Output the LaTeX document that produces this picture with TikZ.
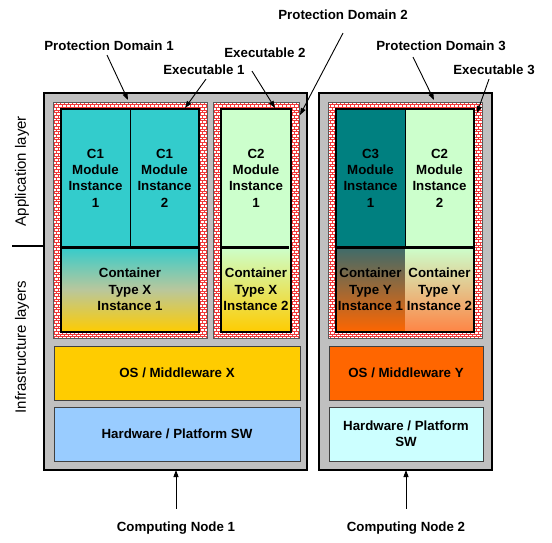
\documentclass[tikz,border=0pt]{standalone}
\usepackage{fontspec}
\setmainfont{Liberation Sans}
\usetikzlibrary{arrows.meta,patterns}

\definecolor{framegray}{HTML}{C0C0C0}
\definecolor{tealc}{HTML}{33CCCC}
\definecolor{darkteal}{HTML}{008080}
\definecolor{greyteal}{HTML}{3D6B6B}
\definecolor{palegreen}{HTML}{CCFFCC}
\definecolor{goldc}{HTML}{FFCC00}
\definecolor{tanmid}{HTML}{B9C79C}
\definecolor{orangec}{HTML}{FF6600}
\definecolor{lightorange}{HTML}{FF8444}
\definecolor{skyblue}{HTML}{99CCFF}
\definecolor{palecyan}{HTML}{CCFFFF}
\definecolor{brickred}{HTML}{F03A3A}

% small brick wall for the protection domains
\pgfdeclarepatternformonly{brickwall}{\pgfpoint{-0.5pt}{-0.5pt}}{\pgfpoint{4.5pt}{6pt}}{\pgfpoint{4pt}{5.4pt}}{
  \pgfsetlinewidth{0.75pt}
  \pgfpathmoveto{\pgfpoint{0pt}{0pt}}\pgfpathlineto{\pgfpoint{4pt}{0pt}}
  \pgfpathmoveto{\pgfpoint{0pt}{2.7pt}}\pgfpathlineto{\pgfpoint{4pt}{2.7pt}}
  \pgfpathmoveto{\pgfpoint{0pt}{0pt}}\pgfpathlineto{\pgfpoint{0pt}{2.7pt}}
  \pgfpathmoveto{\pgfpoint{2pt}{2.7pt}}\pgfpathlineto{\pgfpoint{2pt}{5.4pt}}
  \pgfusepath{stroke}
}

\newcommand{\boxfont}{\bfseries\fontsize{13.3}{16.3}\selectfont}

\tikzset{
  nodeframe/.style={fill=framegray, draw=black, line width=2.6pt},
  pdframe/.style={preaction={fill=white}, pattern=brickwall, pattern color=brickred,
    draw=black!65, line width=0.7pt},
  exframe/.style={draw=black, line width=1.3pt},
  modbox/.style={draw=black, line width=0.8pt, inner sep=0pt, align=center,
    font=\boxfont, minimum width=69pt, minimum height=138pt},
  contbox/.style={modbox, draw=none, minimum height=85pt},
  layerbox/.style={draw=black!75, line width=0.8pt, inner sep=0pt, align=center,
    font=\boxfont, minimum width=246pt, minimum height=54pt},
  lbl/.style={font=\boxfont, inner sep=1pt},
  sidelbl/.style={font=\fontsize{15}{18}\selectfont, inner sep=1pt, rotate=90},
  ptr/.style={-{Triangle[length=7pt,width=5pt]}, line width=0.9pt}
}

\begin{document}
\begin{tikzpicture}[x=1pt,y=-1pt]
\useasboundingbox (0,0) rectangle (552,542);

% computing nodes
\draw[nodeframe] (44,93) rectangle (307,470);
\draw[nodeframe] (319,93) rectangle (492,470);

% protection domains
\draw[pdframe] (53,102) rectangle (207,338);
\draw[pdframe] (213,102) rectangle (299,338);
\draw[pdframe] (328,102) rectangle (482,338);

% executable 1
\node[modbox, fill=tealc] (c1m1) at (95.5,178) {C1\\Module\\Instance\\1};
\node[modbox, fill=tealc] (c1m2) at (164.5,178) {C1\\Module\\Instance\\2};
\node[contbox, minimum width=138pt, top color=tealc, bottom color=goldc, middle color=tanmid] (ctx1) at (130,289.5) {Container\\Type X\\Instance 1};
\draw[exframe] (61,109) rectangle (199,332);
\draw[line width=3pt] (61,247) -- (199,247);

% executable 2
\node[modbox, minimum width=70pt, fill=palegreen] (c2m1) at (256,178) {C2\\Module\\Instance\\1};
\node[contbox, minimum width=70pt, top color=palegreen, bottom color=goldc] (ctx2) at (256,289.5) {Container\\Type X\\Instance 2};
\draw[exframe] (221,109) rectangle (291,332);
\draw[line width=3pt] (221,247) -- (289,247);

% executable 3
\node[modbox, fill=darkteal] (c3m1) at (370.5,178) {C3\\Module\\Instance\\1};
\node[modbox, fill=palegreen] (c2m2) at (439.5,178) {C2\\Module\\Instance\\2};
\node[contbox, top color=greyteal, bottom color=orangec] (cty1) at (370.5,289.5) {Container\\Type Y\\Instance 1};
\node[contbox, top color=palegreen, bottom color=lightorange] (cty2) at (439.5,289.5) {Container\\Type Y\\Instance 2};
\draw[exframe] (336,109) rectangle (474,332);
\draw[line width=3pt] (336,247) -- (474,247);

% infrastructure
\node[layerbox, fill=goldc] (osx) at (177,373) {OS / Middleware X};
\node[layerbox, fill=skyblue] (hwx) at (177,434) {Hardware / Platform SW};
\node[layerbox, minimum width=154pt, fill=orangec] (osy) at (406,373) {OS / Middleware Y};
\node[layerbox, minimum width=154pt, fill=palecyan] (hwy) at (406,434) {Hardware / Platform\\SW};

% layer labels
\node[sidelbl] (applbl) at (22,171) {Application layer};
\node[sidelbl] (inflbl) at (22,347) {Infrastructure layers};
\draw[line width=2.6pt] (12,246) -- (44,246);

% pointers
\node[lbl] (pd1lbl) at (109,46) {Protection Domain 1};
\node[lbl] (ex1lbl) at (204,70) {Executable 1};
\node[lbl] (ex2lbl) at (265,53) {Executable 2};
\node[lbl] (pd2lbl) at (343,15) {Protection Domain 2};
\node[lbl] (pd3lbl) at (441,46) {Protection Domain 3};
\node[lbl] (ex3lbl) at (494,70) {Executable 3};
\node[lbl] (cn1lbl) at (176,528) {Computing Node 1};
\node[lbl] (cn2lbl) at (406,528) {Computing Node 2};

\coordinate (pd1tip) at (128,100);
\coordinate (ex1tip) at (185,108);
\coordinate (ex2tip) at (275,108);
\coordinate (pd2tip) at (300,115);
\coordinate (pd3tip) at (434,100);
\coordinate (ex3tip) at (477,113);
\coordinate (cn1tip) at (176,470);
\coordinate (cn2tip) at (406,470);

\draw[ptr] ([xshift=-2pt,yshift=-3pt]pd1lbl.south) -- (pd1tip);
\draw[ptr] ([xshift=2pt,yshift=-3pt]ex1lbl.south) -- (ex1tip);
\draw[ptr] ([xshift=-13pt,yshift=-12pt]ex2lbl.south) -- (ex2tip);
\draw[ptr] ([yshift=-12pt]pd2lbl.south) -- (pd2tip);
\draw[ptr] ([xshift=-28pt,yshift=-5pt]pd3lbl.south) -- (pd3tip);
\draw[ptr] ([xshift=-5pt,yshift=-3pt]ex3lbl.south) -- (ex3tip);
\draw[ptr] ([yshift=12pt]cn1lbl.north) -- (cn1tip);
\draw[ptr] ([yshift=12pt]cn2lbl.north) -- (cn2tip);
\end{tikzpicture}
\end{document}
